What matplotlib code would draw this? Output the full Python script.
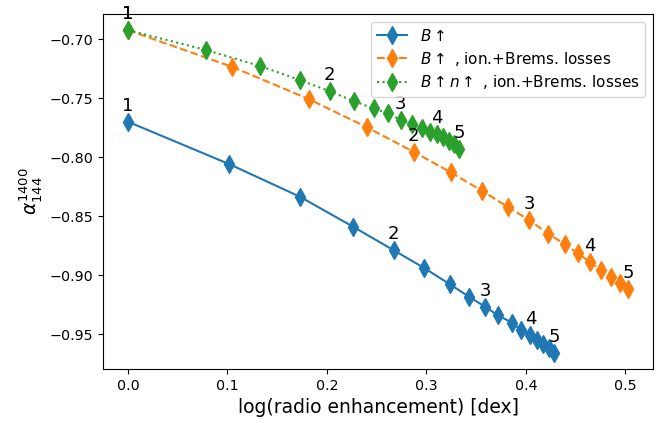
import numpy as np
import matplotlib
matplotlib.use("Agg")
import matplotlib.pyplot as plt

# log(radio enhancement) and spectral index for the three models
x_b = [0.0, 0.102, 0.173, 0.2264, 0.267, 0.298, 0.3234, 0.3432, 0.3593,
       0.3719, 0.3862, 0.3955, 0.4045, 0.4112, 0.4173, 0.4229, 0.4286]
y_b = [-0.770, -0.806, -0.8336, -0.859, -0.8788, -0.894, -0.9076, -0.9184, -0.9269,
       -0.934, -0.9403, -0.9466, -0.9508, -0.955, -0.9585, -0.962, -0.9658]

x_bl = [0.0, 0.1047, 0.1817, 0.2404, 0.2872, 0.3248, 0.356, 0.3817, 0.4035,
        0.4223, 0.439, 0.4525, 0.4648, 0.4759, 0.4859, 0.4943, 0.5027]
y_bl = [-0.6924, -0.7235, -0.7508, -0.7748, -0.7955, -0.813, -0.8286, -0.8421, -0.8534,
        -0.8647, -0.8737, -0.8816, -0.8892, -0.8958, -0.9014, -0.907, -0.9119]

x_bnl = [0.0, 0.0786, 0.1332, 0.1727, 0.2028, 0.2269, 0.2469, 0.2618, 0.2744,
         0.2856, 0.2956, 0.3033, 0.3108, 0.3168, 0.3229, 0.3279, 0.3326]
y_bnl = [-0.6924, -0.7093, -0.7229, -0.7347, -0.7441, -0.7525, -0.7587, -0.7630, -0.7686,
         -0.7722, -0.7756, -0.7784, -0.7804, -0.7833, -0.7862, -0.789, -0.7927]

label_idx = [0, 4, 8, 12, 16]
label_txt = ["1", "2", "3", "4", "5"]

fig = plt.figure(figsize=(6.66, 4.23), dpi=100)
ax = fig.add_subplot(111)
fig.subplots_adjust(left=103/666, right=653/666, top=1-14/423, bottom=1-369/423)

ax.plot(x_b, y_b, "d-", color="C0", ms=9, label=r"$B\uparrow$")
ax.plot(x_bl, y_bl, "d--", color="C1", ms=9, label=r"$B\uparrow$ , ion.+Brems. losses")
ax.plot(x_bnl, y_bnl, "d:", color="C2", ms=9, label=r"$B\uparrow n\uparrow$ , ion.+Brems. losses")

for xs, ys in [(x_b, y_b), (x_bl, y_bl), (x_bnl, y_bnl)]:
    for i, t in zip(label_idx, label_txt):
        ax.annotate(t, (xs[i], ys[i]), xytext=(0, 5), textcoords="offset points",
                    ha="center", va="bottom", fontsize=13)

ax.tick_params(labelsize=10.3)
ax.set_xlabel("log(radio enhancement) [dex]", fontsize=13.5)
ax.set_ylabel(r"$\alpha_{144}^{1400}$", fontsize=13.5)
ax.legend(loc="upper right", fontsize=11, labelspacing=0.38)

fig.savefig("out.png", dpi=100)
